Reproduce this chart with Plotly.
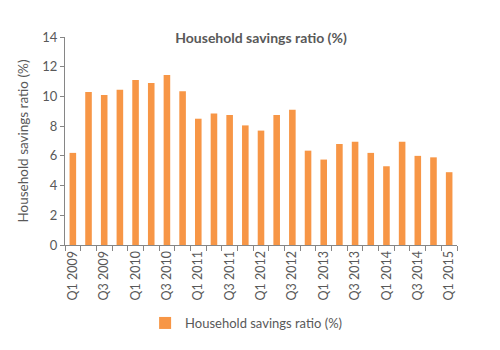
import plotly.graph_objects as go

quarters = [f"Q{q} {y}" for y in range(2009, 2016) for q in range(1, 5)][:25]
savings_ratio = [6.2, 10.3, 10.1, 10.45, 11.1, 10.9, 11.45, 10.35, 8.5, 8.85,
                 8.75, 8.05, 7.7, 8.75, 9.1, 6.35, 5.75, 6.8, 6.95, 6.2,
                 5.3, 6.95, 6.0, 5.9, 4.9]
tick_text = [q if i % 2 == 0 else "" for i, q in enumerate(quarters)]
series_name = "Household savings ratio (%)"

font_family = "Lato, 'Open Sans', sans-serif"
grey = "#595959"

fig = go.Figure(go.Bar(
    x=quarters, y=savings_ratio, name=series_name,
    marker=dict(color="#F79646", line=dict(width=0)),
))

fig.update_layout(
    width=500, height=350,
    margin=dict(l=65, r=43, t=37, b=105),
    paper_bgcolor="white", plot_bgcolor="white",
    font=dict(family=font_family, color=grey, size=12),
    bargap=0.58,
    showlegend=True,
    title=dict(text="<b>Household savings ratio (%)</b>", x=0.5, xref="paper",
               xanchor="center", y=1 - 38 / 350, yref="container", yanchor="middle",
               font=dict(size=14, color=grey)),
    legend=dict(orientation="h", x=0.462, xanchor="center", xref="paper",
                y=1 - 323 / 350, yref="container", yanchor="middle",
                font=dict(size=13, color=grey), itemwidth=30),
    xaxis=dict(
        type="category", tickvals=quarters, ticktext=tick_text, tickangle=-90,
        tickson="boundaries", ticks="outside", ticklen=5, tickcolor="#868686",
        showline=True, linecolor="#868686", linewidth=1, showgrid=False,
        tickfont=dict(size=12.5, color=grey), automargin=False,
    ),
    yaxis=dict(
        range=[0, 14], dtick=2, ticks="outside", ticklen=4, tickcolor="#868686",
        showline=True, linecolor="#868686", linewidth=1, showgrid=False,
        zeroline=False, tickfont=dict(size=13, color=grey), automargin=False,
        title=dict(text=series_name, font=dict(size=13.5, color=grey), standoff=10),
    ),
)

fig.write_html("out.html")
